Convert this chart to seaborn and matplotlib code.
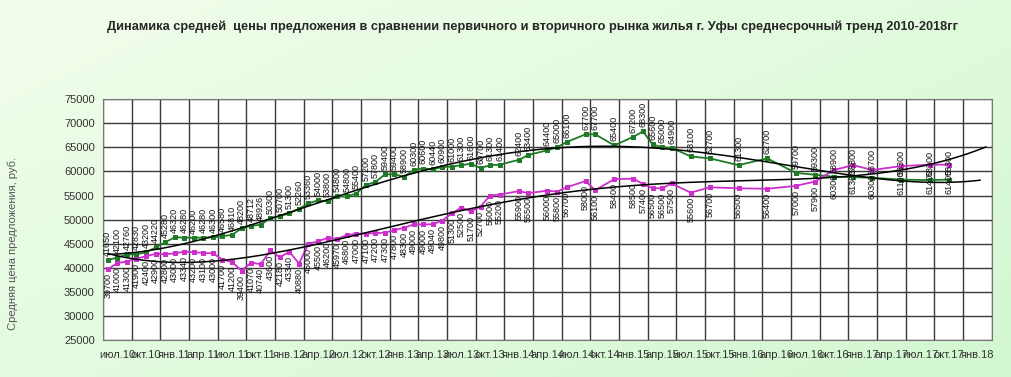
import numpy as np
import pandas as pd
import seaborn as sns
import matplotlib
matplotlib.use("Agg")
from matplotlib import pyplot as plt

# month offsets from July 2010 (0 = июл.10)
months = list(range(0, 42)) + [43, 44, 46, 47, 48, 50, 51, 53, 55, 56, 57, 58, 59, 61,
                               63, 66, 69, 72, 74, 76, 78, 80, 83, 86, 88]

green_vals = [41650, 42100, 42760, 42830, 43200, 44220, 45280, 46320, 46280, 46200, 46280, 46300,
              46580, 46810, 48200, 48712, 48926, 50300, 50700, 51300, 52260, 53360, 54000, 53800,
              54800, 54800, 55400, 57200, 57800, 59400, 59400, 58900, 60300, 60600, 60440, 60900,
              61000, 61300, 61600, 60700, 61300, 61400,
              62400, 63400, 64400, 65000, 66100, 67700, 67700, 65400, 67200, 68300, 65600, 65000,
              64900, 63100,
              62700, 61300, 62700, 59700, 59300, 58900, 58800, 58700, 58300, 58200, 58300]

magenta_vals = [39700, 41000, 41300, 41900, 42400, 42900, 42800, 43000, 43340, 43200, 43100, 43000,
                41700, 41200, 39400, 41070, 40740, 43600, 42180, 43340, 40880, 45000, 45500, 46200,
                45970, 46800, 47000, 47100, 47200, 47300, 47800, 48300, 49000, 49000, 49040, 49800,
                51300, 52500, 51700, 52700, 55000, 55200,
                55900, 55500, 56000, 55800, 56700, 58000, 56100, 58400, 58500, 57400, 56500, 56500,
                57500, 55600,
                56700, 56500, 56400, 57000, 57900, 60300, 61300, 60300, 61100, 61400, 61400]

month_names = ["янв", "апр", "июл", "окт"]
tick_labels = []
for k in range(31):
    m = 6 + 3 * k  # zero-based month counting from Jan 2010
    tick_labels.append(f"{month_names[(m % 12) // 3]}.{10 + m // 12}")

title = "Динамика средней  цены предложения в сравнении первичного и вторичного рынка жилья г. Уфы среднесрочный тренд 2010-2018гг"
ylabel = "Средняя цена предложения, руб."

GREEN = "#1f7a25"
MAGENTA = "#cc2fcc"

df = pd.DataFrame({"month": months, "green": green_vals, "magenta": magenta_vals})

sns.set_style("white")
plt.rcParams["font.family"] = ["Liberation Sans", "DejaVu Sans"]

fig = plt.figure(figsize=(10.11, 3.77), dpi=100)

# light green gradient background
bg = fig.add_axes([0, 0, 1, 1], zorder=-10)
gx, gy = np.meshgrid(np.linspace(0, 1, 200), np.linspace(0, 1, 80))
grad = 0.55 * gx + 0.45 * gy
cmap = matplotlib.colors.LinearSegmentedColormap.from_list("bg", ["#f2fdec", "#d2f8d0"])
bg.imshow(grad, cmap=cmap, aspect="auto", extent=[0, 1, 0, 1])
bg.axis("off")

ax = fig.add_axes([0.1019, 0.098, 0.8791, 0.639])
ax.set_facecolor("white")

sns.lineplot(data=df, x="month", y="green", ax=ax, color=GREEN, marker="s", markersize=3.5,
             markeredgecolor=GREEN, linewidth=1.3, zorder=3)
sns.lineplot(data=df, x="month", y="magenta", ax=ax, color=MAGENTA, marker="s", markersize=3.5,
             markeredgecolor=MAGENTA, linewidth=1.3, zorder=3)

# polynomial trend lines (as the spreadsheet trendline, with a short forecast)
xs = np.array(months, dtype=float)
for vals, x_end in ((green_vals, 91.3), (magenta_vals, 91.9)):
    xfit = np.linspace(0, x_end, 300)
    coef = np.polyfit(xs / 90.0, np.array(vals, dtype=float), 4)
    ax.plot(xfit, np.polyval(coef, xfit / 90.0), color="black", linewidth=1.1, zorder=4)

# data labels
for m, g, p in zip(months, green_vals, magenta_vals):
    ax.annotate(str(g), (m, g), xytext=(0, 3), textcoords="offset points", rotation=90,
                ha="center", va="bottom", fontsize=6.5, color="#111111", zorder=5)
    ax.annotate(str(p), (m, p), xytext=(0, -3), textcoords="offset points", rotation=90,
                ha="center", va="top", fontsize=6.5, color="#111111", zorder=5)

ax.set_xlim(-0.5, 92.5)
ax.set_ylim(25000, 75000)
ax.set_yticks(range(25000, 75001, 5000))
ax.set_yticklabels([str(v) for v in range(25000, 75001, 5000)], fontsize=8, color="#333333")
ax.set_xticks([-0.5 + 3 * k for k in range(32)])
ax.set_xticklabels([])
ax.set_xticks([1 + 3 * k for k in range(31)], minor=True)
ax.set_xticklabels(tick_labels, minor=True, fontsize=8, color="#333333")
ax.tick_params(axis="x", which="major", length=4, color="#444444", direction="out")
ax.tick_params(axis="x", which="minor", length=0, pad=7)
ax.tick_params(axis="y", length=4, color="#444444", direction="out", pad=2)
ax.grid(True, which="major", color="#3a3a3a", linewidth=1.0)
ax.set_axisbelow(True)
for s in ax.spines.values():
    s.set_color("#777777")
    s.set_linewidth(0.8)
ax.set_xlabel("")
ax.set_ylabel("")

fig.text(0.527, 0.928, title, ha="center", va="center", fontsize=9.2, fontweight="bold")
fig.text(0.013, 0.355, ylabel, rotation=90, ha="center", va="center", fontsize=8, color="#555555")

fig.savefig("out.png", dpi=100)
